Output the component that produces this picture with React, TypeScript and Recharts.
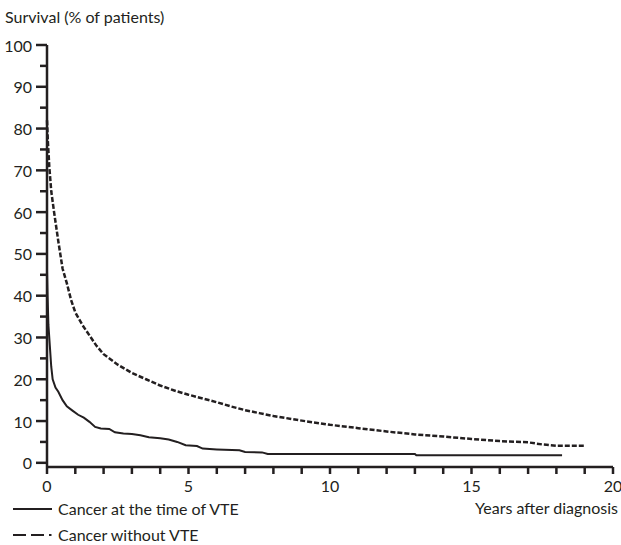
import React from 'react';
import { LineChart, Line, XAxis, YAxis } from 'recharts';

// Kaplan-Meier style survival curves
const vteYears = [0, 0.02, 0.05, 0.1, 0.15, 0.2, 0.3, 0.4, 0.55, 0.7, 0.9, 1.1, 1.3, 1.5, 1.7, 1.9, 2.2, 2.4, 2.7, 3.0, 3.3, 3.6, 4.0, 4.3, 4.6, 4.9, 5.3, 5.5, 6.0, 6.8, 7.0, 7.6, 7.8, 13.0, 13.05, 18.2];
const vteSurvival = [46, 40, 33, 28, 23, 20, 18, 17, 15, 13.5, 12.5, 11.5, 10.8, 9.8, 8.6, 8.2, 8.1, 7.3, 7.0, 6.9, 6.6, 6.1, 5.9, 5.6, 5.0, 4.2, 4.0, 3.4, 3.2, 3.0, 2.6, 2.5, 2.1, 2.1, 1.8, 1.8];

const noVteYears = [0, 0.03, 0.08, 0.15, 0.25, 0.4, 0.55, 0.7, 0.85, 1.0, 1.25, 1.5, 1.75, 2.0, 2.5, 3.0, 3.5, 4.0, 4.5, 5.0, 5.5, 6.0, 6.5, 7.0, 7.5, 8.0, 9.0, 10.0, 11.0, 12.0, 13.0, 14.0, 15.0, 16.0, 17.0, 17.5, 18.0, 19.0];
const noVteSurvival = [82, 77, 71, 65, 60, 53, 46.5, 43, 39, 36, 33, 30.5, 28, 26, 23.5, 21.5, 20, 18.5, 17.3, 16.3, 15.4, 14.5, 13.5, 12.6, 11.9, 11.2, 10.1, 9.1, 8.3, 7.5, 6.8, 6.3, 5.7, 5.2, 4.9, 4.4, 4.1, 4.1];

const xTicks = [0, 1, 2, 3, 4, 5, 6, 7, 8, 9, 10, 11, 12, 13, 14, 15, 16, 17, 18, 19, 20];
const yTicks = [0, 5, 10, 15, 20, 25, 30, 35, 40, 45, 50, 55, 60, 65, 70, 75, 80, 85, 90, 95, 100];

const vteData = vteYears.map((year, i) => ({ year, value: vteSurvival[i] }));
const noVteData = noVteYears.map((year, i) => ({ year, value: noVteSurvival[i] }));

const INK = '#231f20';
const FONT = 'Lato, "Open Sans", sans-serif';

const YTick = (props: any) => {
  const { x, y, payload } = props;
  const major = payload.value % 10 === 0;
  return (
    <g>
      <line x1={x - (major ? 11 : 7)} x2={x} y1={y} y2={y} stroke={INK} strokeWidth={2.5} />
      {major && (
        <text x={x - 15} y={y} textAnchor="end" dominantBaseline="central" fill={INK} fontSize={16} fontFamily={FONT}>
          {payload.value}
        </text>
      )}
    </g>
  );
};

const XTick = (props: any) => {
  const { x, y, payload } = props;
  const major = payload.value % 5 === 0;
  return (
    <g>
      <line x1={x} x2={x} y1={y} y2={y + 7} stroke={INK} strokeWidth={2.5} />
      {major && (
        <text x={x} y={y + 18} textAnchor="middle" dominantBaseline="central" fill={INK} fontSize={16} fontFamily={FONT}>
          {payload.value}
        </text>
      )}
    </g>
  );
};

const textStyle: React.CSSProperties = {
  position: 'absolute',
  fontFamily: FONT,
  fontSize: 16,
  color: INK,
  lineHeight: '18px',
  whiteSpace: 'nowrap',
};

export default function App() {
  return (
    <div style={{ position: 'absolute', left: 0, top: 0, width: 621, height: 545, background: '#fff' }}>
      <LineChart width={621} height={545} margin={{ top: 45, right: 8, bottom: 48, left: 0 }}>
        <XAxis
          type="number"
          dataKey="year"
          domain={[0, 20]}
          ticks={xTicks}
          interval={0}
          tickSize={0}
          tickMargin={0}
          tickLine={false}
          tick={<XTick />}
          axisLine={{ stroke: INK, strokeWidth: 2.5 }}
          height={30}
          allowDuplicatedCategory={false}
        />
        <YAxis
          type="number"
          domain={[-1, 100]}
          ticks={yTicks}
          interval={0}
          tickSize={0}
          tickMargin={0}
          tickLine={false}
          tick={<YTick />}
          axisLine={{ stroke: INK, strokeWidth: 2.5 }}
          width={47}
        />
        <Line
          data={noVteData}
          dataKey="value"
          type="linear"
          stroke={INK}
          strokeWidth={2.5}
          strokeDasharray="5 2"
          dot={false}
          isAnimationActive={false}
        />
        <Line
          data={vteData}
          dataKey="value"
          type="linear"
          stroke={INK}
          strokeWidth={2}
          dot={false}
          isAnimationActive={false}
        />
      </LineChart>

      <div style={{ ...textStyle, left: 5, top: 8 }}>Survival (% of patients)</div>
      <div style={{ ...textStyle, right: 3, top: 499 }}>Years after diagnosis</div>

      <div style={{ ...textStyle, left: 13, top: 500, display: 'flex', alignItems: 'center' }}>
        <svg width={40} height={18} style={{ marginRight: 5 }}>
          <line x1={0} x2={39} y1={9} y2={9} stroke={INK} strokeWidth={2} />
        </svg>
        Cancer at the time of VTE
      </div>
      <div style={{ ...textStyle, left: 13, top: 526, display: 'flex', alignItems: 'center' }}>
        <svg width={40} height={18} style={{ marginRight: 5 }}>
          <line x1={0} x2={31} y1={9} y2={9} stroke={INK} strokeWidth={2} strokeDasharray="13 5" />
          <line x1={36} x2={38.5} y1={9} y2={9} stroke={INK} strokeWidth={2} />
        </svg>
        Cancer without VTE
      </div>
    </div>
  );
}
